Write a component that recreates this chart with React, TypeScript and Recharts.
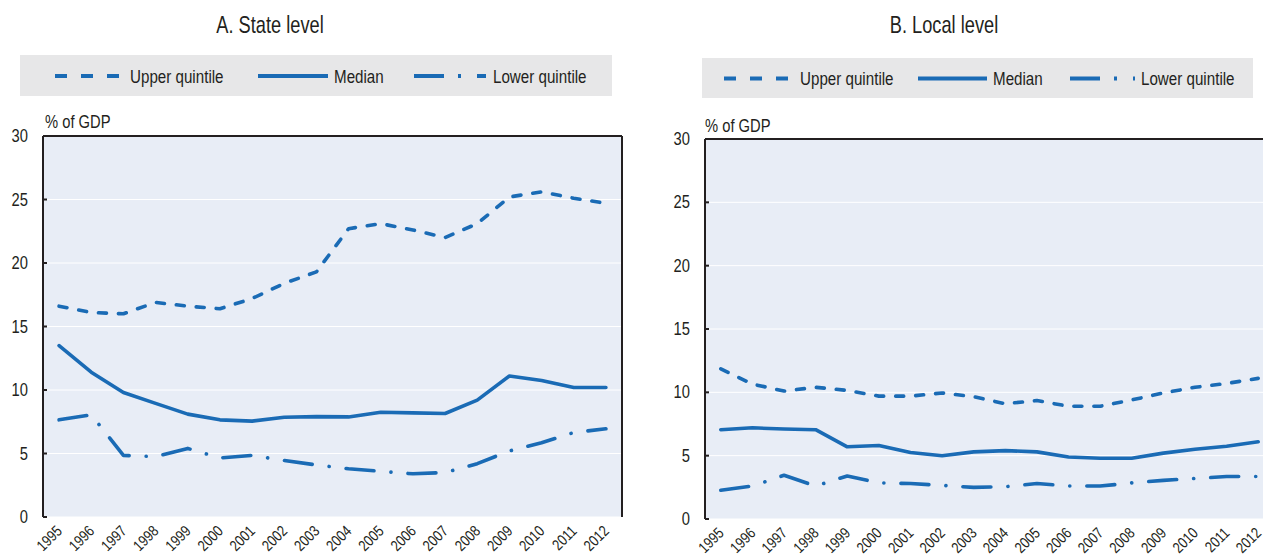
import React from 'react';
import { LineChart, Line, XAxis, YAxis, CartesianGrid, ReferenceLine } from 'recharts';

// Years on the horizontal axis
const years = [1995, 1996, 1997, 1998, 1999, 2000, 2001, 2002, 2003, 2004, 2005, 2006, 2007, 2008, 2009, 2010, 2011, 2012];

// A. State level (% of GDP)
const stateUpper = [16.6, 16.1, 16.0, 16.9, 16.6, 16.4, 17.2, 18.4, 19.3, 22.7, 23.1, 22.6, 22.0, 23.1, 25.2, 25.6, 25.1, 24.7];
const stateMedian = [13.5, 11.4, 9.8, 8.95, 8.1, 7.65, 7.55, 7.85, 7.9, 7.88, 8.25, 8.2, 8.15, 9.2, 11.1, 10.75, 10.2, 10.2];
const stateLower = [7.65, 8.05, 4.85, 4.75, 5.4, 4.65, 4.85, 4.45, 4.1, 3.8, 3.6, 3.4, 3.5, 4.2, 5.2, 5.85, 6.65, 6.95];

// B. Local level (% of GDP)
const localUpper = [11.85, 10.65, 10.1, 10.4, 10.15, 9.7, 9.7, 9.95, 9.65, 9.1, 9.35, 8.9, 8.9, 9.4, 9.95, 10.4, 10.7, 11.1];
const localMedian = [7.05, 7.2, 7.1, 7.05, 5.7, 5.8, 5.25, 5.0, 5.3, 5.4, 5.3, 4.9, 4.8, 4.8, 5.2, 5.5, 5.75, 6.1];
const localLower = [2.27, 2.6, 3.45, 2.6, 3.4, 2.85, 2.8, 2.65, 2.5, 2.55, 2.8, 2.6, 2.6, 2.85, 3.05, 3.2, 3.35, 3.35];

const yTicks = [0, 5, 10, 15, 20, 25, 30];
const seriesNames = ['Upper quintile', 'Median', 'Lower quintile'];
const panelTitles = ['A. State level', 'B. Local level'];
const unitLabel = '% of GDP';

const FONT = '"Liberation Sans", Arial, sans-serif';
const NARROW = 0.82; // horizontal squeeze for a condensed look
const BLUE = '#1a6bb5';
const INK = '#231f20';
const PLOT_BG = '#e8edf6';
const LEGEND_BG = '#e7e7e8';

const DASHED = '8 12';
const DASH_DOT = '28 17 0.1 17';

const bandEdges = years.slice(1).map((y) => y - 0.5);
const xDomain: [number, number] = [years[0] - 0.5, years[years.length - 1] + 0.5];

function buildRows(upper: number[], median: number[], lower: number[]) {
  return years.map((year, i) => ({ year, upper: upper[i], median: median[i], lower: lower[i] }));
}

const stateRows = buildRows(stateUpper, stateMedian, stateLower);
const localRows = buildRows(localUpper, localMedian, localLower);

type NarrowTextProps = {
  x: number;
  y: number;
  size: number;
  anchor?: 'start' | 'middle' | 'end';
  rotate?: number;
  squeeze?: number;
  children: React.ReactNode;
};

// Text squeezed horizontally around its anchor point
function NarrowText({ x, y, size, anchor = 'start', rotate = 0, squeeze = NARROW, children }: NarrowTextProps) {
  const rot = rotate ? ` rotate(${rotate})` : '';
  return (
    <text
      x={0}
      y={0}
      textAnchor={anchor}
      fontSize={size}
      fill={INK}
      fontFamily={FONT}
      transform={`translate(${x} ${y})${rot} scale(${squeeze} 1)`}
    >
      {children}
    </text>
  );
}

const YearTick = (props: any) => {
  const { x, y, payload } = props;
  return (
    <NarrowText x={x + 4} y={y + 15} size={15.5} anchor="end" rotate={-45}>
      {payload.value}
    </NarrowText>
  );
};

const ValueTick = (props: any) => {
  const { x, y, payload } = props;
  return (
    <NarrowText x={x} y={y + 6} size={18} anchor="end">
      {payload.value}
    </NarrowText>
  );
};

type PanelProps = {
  rows: any[];
  left: number;
  top: number;
  width: number;
  height: number;
  margin: { top: number; right: number; bottom: number; left: number };
};

function Panel({ rows, left, top, width, height, margin }: PanelProps) {
  return (
    <div style={{ position: 'absolute', left, top }}>
      <LineChart width={width} height={height} data={rows} margin={margin} style={{ overflow: 'visible' }}>
        <CartesianGrid
          xAxisId="grid"
          fill={PLOT_BG}
          fillOpacity={1}
          stroke="#ffffff"
          strokeWidth={1}
        />
        <XAxis
          xAxisId="grid"
          dataKey="year"
          type="number"
          domain={xDomain}
          ticks={bandEdges}
          tick={false}
          tickSize={-5}
          height={0}
          axisLine={{ stroke: INK, strokeWidth: 2 }}
          tickLine={{ stroke: INK, strokeWidth: 2 }}
          allowDataOverflow
        />
        <XAxis
          xAxisId="years"
          dataKey="year"
          type="number"
          domain={xDomain}
          ticks={years}
          interval={0}
          tick={<YearTick />}
          tickSize={0}
          tickMargin={0}
          height={38}
          axisLine={false}
          tickLine={false}
          allowDataOverflow
        />
        <YAxis
          domain={[0, 30]}
          ticks={yTicks}
          interval={0}
          width={33}
          tickSize={-4}
          tickMargin={19}
          axisLine={{ stroke: INK, strokeWidth: 2 }}
          tickLine={{ stroke: INK, strokeWidth: 2 }}
          tick={<ValueTick />}
        />
        <ReferenceLine xAxisId="grid" y={30} stroke={INK} strokeWidth={2} />
        <ReferenceLine xAxisId="grid" x={xDomain[1]} stroke={INK} strokeWidth={2} />
        <Line
          xAxisId="grid"
          dataKey="upper"
          name={seriesNames[0]}
          stroke={BLUE}
          strokeWidth={3.6}
          strokeDasharray={DASHED}
          strokeLinecap="round"
          strokeLinejoin="round"
          dot={false}
          isAnimationActive={false}
        />
        <Line
          xAxisId="grid"
          dataKey="median"
          name={seriesNames[1]}
          stroke={BLUE}
          strokeWidth={3.6}
          strokeLinecap="round"
          strokeLinejoin="round"
          dot={false}
          isAnimationActive={false}
        />
        <Line
          xAxisId="grid"
          dataKey="lower"
          name={seriesNames[2]}
          stroke={BLUE}
          strokeWidth={3.6}
          strokeDasharray={DASH_DOT}
          strokeLinecap="round"
          strokeLinejoin="round"
          dot={false}
          isAnimationActive={false}
        />
      </LineChart>
    </div>
  );
}

type LegendProps = {
  left: number;
  top: number;
  width: number;
  height: number;
  samples: [number, number][];
  textX: number[];
};

function LegendBox({ left, top, width, height, samples, textX }: LegendProps) {
  const cy = height / 2 + 0.5;
  const dashes = ['12 14', undefined, '30 14 3 16'];
  return (
    <svg style={{ position: 'absolute', left, top }} width={width} height={height}>
      <rect x={0} y={0} width={width} height={height} fill={LEGEND_BG} />
      {seriesNames.map((name, i) => (
        <g key={name}>
          <line
            x1={samples[i][0] - left}
            x2={samples[i][1] - left}
            y1={cy}
            y2={cy}
            stroke={BLUE}
            strokeWidth={4}
            strokeDasharray={dashes[i]}
          />
          <NarrowText x={textX[i] - left} y={cy + 6.5} size={18.5}>
            {name}
          </NarrowText>
        </g>
      ))}
    </svg>
  );
}

export default function App() {
  return (
    <div
      style={{
        position: 'absolute',
        left: 0,
        top: 0,
        width: 1263,
        height: 555,
        overflow: 'hidden',
        background: '#ffffff',
        fontFamily: FONT,
      }}
    >
      <svg style={{ position: 'absolute', left: 0, top: 0 }} width={1263} height={140}>
        <NarrowText x={270} y={32.5} size={24} anchor="middle" squeeze={0.76}>
          {panelTitles[0]}
        </NarrowText>
        <NarrowText x={944} y={32.5} size={24} anchor="middle" squeeze={0.76}>
          {panelTitles[1]}
        </NarrowText>
        <NarrowText x={45} y={128} size={18}>
          {unitLabel}
        </NarrowText>
        <NarrowText x={705} y={132} size={18}>
          {unitLabel}
        </NarrowText>
      </svg>

      <LegendBox
        left={20}
        top={55}
        width={592}
        height={41}
        samples={[[55, 121], [258, 328], [414, 486]]}
        textX={[130, 334, 493]}
      />
      <LegendBox
        left={702}
        top={58}
        width={551}
        height={40}
        samples={[[724, 790], [918, 987], [1070, 1135]]}
        textX={[800, 993, 1141]}
      />

      <Panel
        rows={stateRows}
        left={0}
        top={100}
        width={640}
        height={455}
        margin={{ top: 36, right: 18, bottom: 0, left: 10 }}
      />
      <Panel
        rows={localRows}
        left={660}
        top={100}
        width={640}
        height={457}
        margin={{ top: 39, right: 26, bottom: 0, left: 12 }}
      />
    </div>
  );
}
